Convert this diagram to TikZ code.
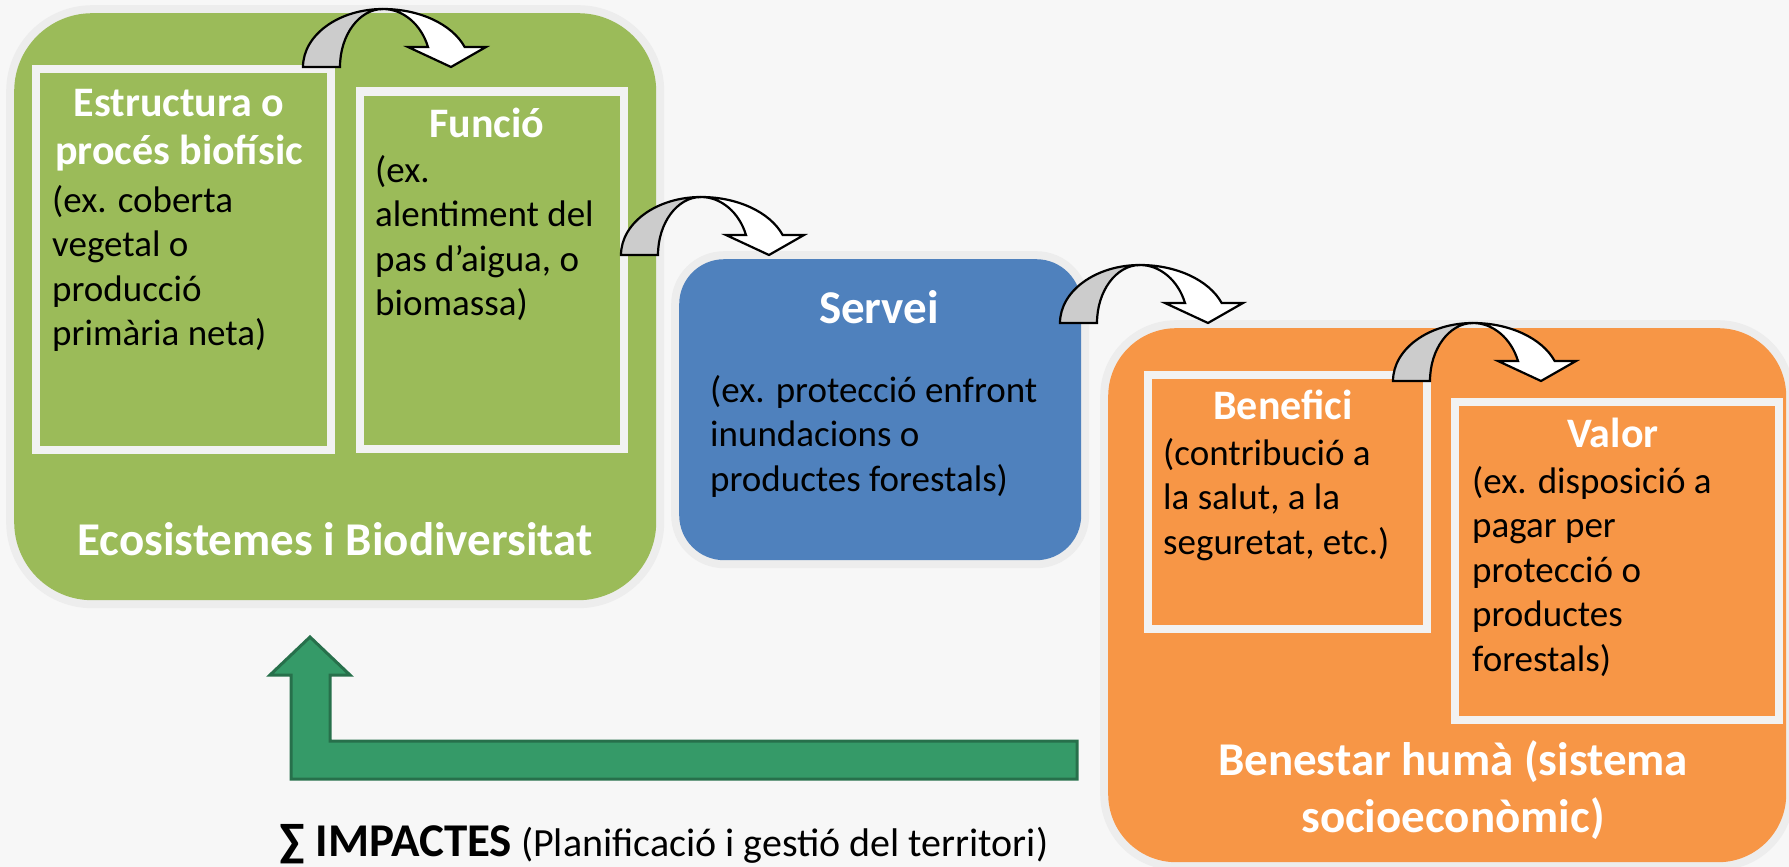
\documentclass[tikz,border=0pt]{standalone}
\usepackage{fontspec}
\setmainfont{Carlito}
\definecolor{bgc}{HTML}{F7F7F7}
\definecolor{ringc}{HTML}{EDEDED}
\definecolor{ecogreen}{HTML}{9BBB59}
\definecolor{servblue}{HTML}{4F81BD}
\definecolor{benorange}{HTML}{F79646}
\definecolor{innerw}{HTML}{F2F2F2}
\definecolor{arrowgray}{HTML}{CCCCCC}
\definecolor{impgreen}{HTML}{359A68}
\definecolor{impdark}{HTML}{27704B}
\tikzset{
  bigbox/.style={rectangle, anchor=north west, inner sep=0pt, preaction={draw=ringc, line width=16}},
  framebox/.style={rectangle, anchor=north west, inner sep=0pt, draw=innerw, line width=8},
  ttl/.style={font=\bfseries\fontsize{42}{48}\selectfont, text=white, inner sep=0pt, anchor=base},
  lbl/.style={font=\bfseries\fontsize{47}{57}\selectfont, text=white, inner sep=0pt, anchor=base},
  bodytxt/.style={font=\fontsize{37}{44.6}\selectfont, text=black, inner sep=0pt, anchor=base west},
  arrowline/.style={draw=black, line width=2.2, line join=miter},
  carrow/.pic={
    \draw[arrowline, fill=white] (0,-58) arc[start angle=270, end angle=339.8, x radius=87, y radius=58]
      -- (103,-20) -- (68,0) -- (25,-20) -- (45,-20)
      arc[start angle=339.8, end angle=270, x radius=48, y radius=58] -- cycle;
    \draw[arrowline, fill=arrowgray] (-80,0) arc[start angle=180, end angle=270, x radius=80, y radius=58]
      arc[start angle=270, end angle=180, x radius=43, y radius=58] -- cycle;
  }
}
\begin{document}
\begin{tikzpicture}[x=1pt, y=-1pt]
\useasboundingbox (0,0) rectangle (1789,867);
\fill[bgc] (0,0) rectangle (1789,867);

% big boxes
\node[bigbox, fill=ecogreen, minimum width=642, minimum height=587, rounded corners=78] (eco) at (14,13) {};
\node[bigbox, fill=servblue, minimum width=402, minimum height=301, rounded corners=45] (serv) at (679,259) {};
\node[bigbox, fill=benorange, minimum width=678, minimum height=534, rounded corners=68] (ben) at (1108,328) {};

% inner frames
\node[framebox, minimum width=295, minimum height=380.5] (estr) at (32,65.5) {};
\node[framebox, minimum width=264, minimum height=357.5] (func) at (356,87.5) {};
\node[framebox, minimum width=279.5, minimum height=253.5] (benf) at (1143.5,371) {};
\node[framebox, minimum width=324, minimum height=318] (valor) at (1451,398) {};

% texts
\node[ttl] (t-estr) at (179,116) {\begin{tabular}[t]{@{}c@{}}Estructura o\\procés biofísic\end{tabular}};
\node[bodytxt] (b-estr) at (52,212) {\begin{tabular}[t]{@{}l@{}}(ex. coberta\\vegetal o\\producció\\primària neta)\end{tabular}};
\node[ttl] (t-func) at (487,137) {Funció};
\node[bodytxt] (b-func) at (375,182) {\begin{tabular}[t]{@{}l@{}}(ex.\\alentiment del\\pas d’aigua, o\\biomassa)\end{tabular}};
\node[lbl] (t-eco) at (335,555) {Ecosistemes i Biodiversitat};

\node[lbl] (t-serv) at (879,323) {Servei};
\node[bodytxt] (b-serv) at (710,402) {\begin{tabular}[t]{@{}l@{}}(ex. protecció enfront\\inundacions o\\productes forestals)\end{tabular}};

\node[ttl] (t-benf) at (1283,419) {Benefici};
\node[bodytxt] (b-benf) at (1163,465) {\begin{tabular}[t]{@{}l@{}}(contribució a\\la salut, a la\\seguretat, etc.)\end{tabular}};
\node[ttl] (t-valor) at (1613,447) {Valor};
\node[bodytxt] (b-valor) at (1472,493) {\begin{tabular}[t]{@{}l@{}}(ex. disposició a\\pagar per\\protecció o\\productes\\forestals)\end{tabular}};
\node[lbl] (t-ben) at (1453,775) {\begin{tabular}[t]{@{}c@{}}Benestar humà (sistema\\socioeconòmic)\end{tabular}};

% curved arrows
\pic at (383,67) {carrow};
\pic at (701,255) {carrow};
\pic at (1140,323) {carrow};
\pic at (1473,381) {carrow};

% impacts arrow
\draw[fill=impgreen, draw=impdark, line width=3, line join=miter]
  (1077,779) -- (1077,741) -- (330,741) -- (330,675) -- (350,675) -- (310,637)
  -- (270,675) -- (291,675) -- (291,779) -- cycle;

\node[inner sep=0pt, anchor=base west, font=\fontsize{40}{48}\selectfont] (imp) at (279,856)
  {{\bfseries\fontsize{47}{54}\selectfont ∑ IMPACTES} (Planificació i gestió del territori)};
\end{tikzpicture}
\end{document}
